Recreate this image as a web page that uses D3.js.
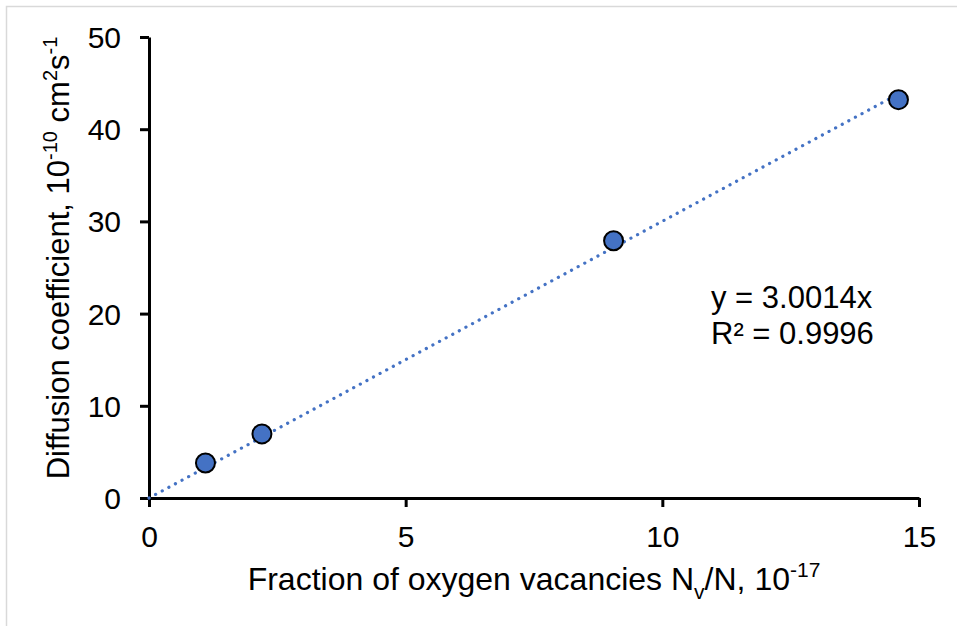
<!DOCTYPE html>
<html><head><meta charset="utf-8">
<script src="https://cdn.jsdelivr.net/npm/d3@7"></script>
<style>body{margin:0;background:#fff;} svg{display:block;font-family:Arial,"Liberation Sans",sans-serif;}</style>
</head><body>
<svg id="c" width="957" height="626"></svg>
<script>
const xValues = [1.1, 2.2, 9.05, 14.6];
const yValues = [3.8, 6.95, 27.9, 43.2];
const xTicks = [0, 5, 10, 15];
const yTicks = [0, 10, 20, 30, 40, 50];
const slope = 3.0014;
const eqLines = ["y = 3.0014x", "R² = 0.9996"];

const svg = d3.select("#c");
svg.append("rect").attr("x",6.5).attr("y",6.5).attr("width",1000).attr("height",1000)
  .attr("fill","#fff").attr("stroke","#d9d9d9").attr("stroke-width",1.5);

const x = d3.scaleLinear().domain([0,15]).range([149,919]);
const y = d3.scaleLinear().domain([0,50]).range([498,37]);

// axes
const xa = svg.append("g").attr("transform",`translate(0,${y(0)})`)
  .call(d3.axisBottom(x).tickValues(xTicks).tickSize(9).tickPadding(19).tickSizeOuter(0));
const ya = svg.append("g").attr("transform",`translate(${x(0)},0)`)
  .call(d3.axisLeft(y).tickValues(yTicks).tickSize(9).tickPadding(19).tickSizeOuter(0));
[xa,ya].forEach(a=>{
  a.select(".domain").attr("stroke","#000").attr("stroke-width",3);
  a.selectAll(".tick line").attr("stroke","#000").attr("stroke-width",3);
  a.selectAll(".tick text").attr("fill","#000").style("font-size","30px").style("font-family","Arial, 'Liberation Sans', sans-serif");
});
xa.selectAll(".tick text").attr("dy","0.71em");
ya.selectAll(".tick text").attr("dy","0.35em");

// trendline
svg.append("line")
  .attr("x1",x(0)).attr("y1",y(0))
  .attr("x2",x(d3.max(xValues))).attr("y2",y(slope*d3.max(xValues)))
  .attr("stroke","#4472C4").attr("stroke-width",3.2)
  .attr("stroke-dasharray","0.1 7.4").attr("stroke-linecap","round");

// points
svg.append("g").selectAll("circle").data(xValues.map((v,i)=>[v,yValues[i]])).join("circle")
  .attr("cx",d=>x(d[0])).attr("cy",d=>y(d[1])).attr("r",9.5)
  .attr("fill","#4472C4").attr("stroke","#000").attr("stroke-width",2);

// equation
const eq = svg.append("text").attr("x",711).attr("y",308).style("font-size","31px").attr("fill","#000");
eqLines.forEach((t,i)=>eq.append("tspan").attr("x",711).attr("dy",i?36:0).text(t));

// x title
const xt = svg.append("text").attr("x",534).attr("y",590).attr("text-anchor","middle")
  .style("font-size","32px").attr("fill","#000");
xt.append("tspan").text("Fraction of oxygen vacancies N");
xt.append("tspan").attr("dy",9).style("font-size","21px").text("v");
xt.append("tspan").attr("dy",-9).text("/N, 10");
xt.append("tspan").attr("dy",-13).style("font-size","21px").text("-17");

// y title
const yt = svg.append("text").attr("transform","translate(69,258) rotate(-90)").attr("text-anchor","middle")
  .style("font-size","31px").attr("fill","#000");
yt.append("tspan").text("Diffusion coefficient, 10");
yt.append("tspan").attr("dy",-12).style("font-size","20px").text("-10");
yt.append("tspan").attr("dy",12).text(" cm");
yt.append("tspan").attr("dy",-12).style("font-size","20px").text("2");
yt.append("tspan").attr("dy",12).text("s");
yt.append("tspan").attr("dy",-12).style("font-size","20px").text("-1");
</script>
</body></html>
